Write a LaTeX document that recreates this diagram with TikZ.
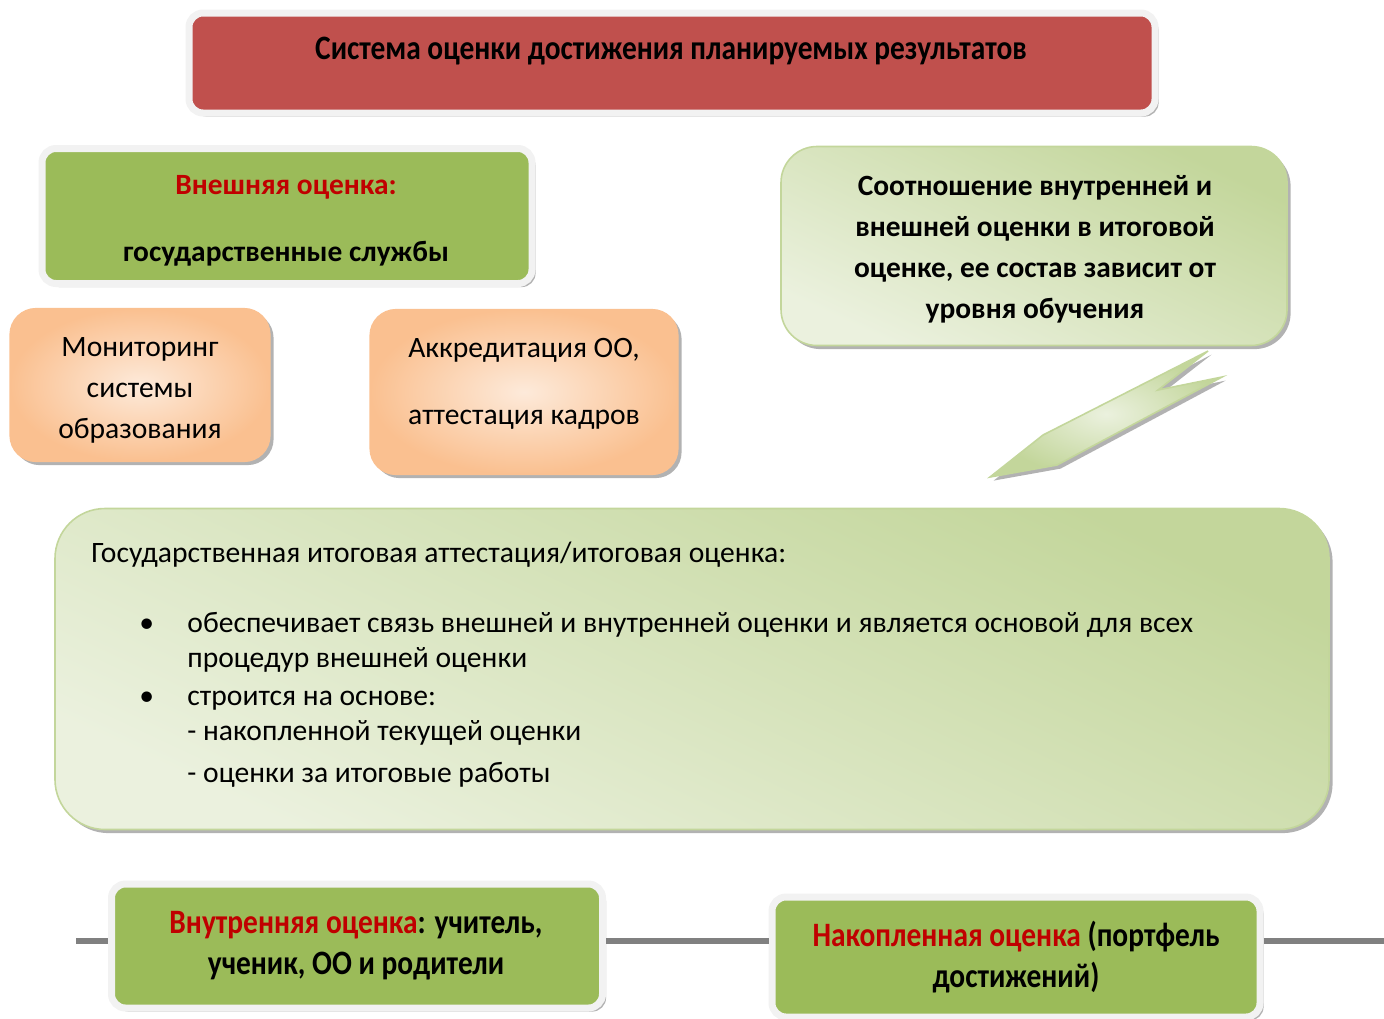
\documentclass[tikz,border=0pt]{standalone}
\usepackage{fontspec}
\setmainfont{Carlito}
\newfontfamily\narrowfont[FakeStretch=0.86]{Carlito}
\usetikzlibrary{shadows}

\definecolor{titlered}{HTML}{C0504D}
\definecolor{leafgreen}{HTML}{9BBB59}
\definecolor{wordred}{HTML}{C00000}
\definecolor{peachedge}{HTML}{FAC090}
\definecolor{peachmid}{HTML}{FDEADA}
\definecolor{sagedark}{HTML}{C3D69B}
\definecolor{sagelight}{HTML}{EBF1DE}
\definecolor{framegray}{HTML}{F2F2F2}

\tikzset{
  boxshadow/.style={drop shadow={shadow xshift=1.8pt,shadow yshift=-1.8pt,fill=black!55,opacity=.55}},
  framedbox/.style={boxshadow,draw=framegray,line width=3.5pt,rounded corners=7pt,inner sep=0pt},
  peachbox/.style={boxshadow,draw=peachedge,line width=.6pt,rounded corners=13pt,inner sep=0pt,
    inner color=peachmid,outer color=peachedge},
  sagebox/.style={boxshadow,draw=sagedark,line width=.8pt,inner sep=0pt,
    top color=sagedark,bottom color=sagelight,shading angle=-25},
  plaintext/.style={font=\fontsize{14.8}{20.5}\selectfont,align=center},
  boldtext/.style={font=\fontsize{14.7}{20.5}\selectfont\bfseries,align=center},
  narrowbold/.style={font=\narrowfont\fontsize{17.1}{20.5}\selectfont\bfseries,align=center},
  listline/.style={font=\fontsize{14.8}{17}\selectfont,anchor=west,text height=1.5ex,text depth=.25ex,inner sep=0pt},
  greyline/.style={black!50,line width=3pt},
}

\begin{document}
\begin{tikzpicture}[x=0.5pt,y=-0.5pt]
\useasboundingbox (0,0) rectangle (1384,1018);

% top title
\node[framedbox,fill=titlered,minimum width=483pt,minimum height=50pt] (title) at (672,63) {};
\node[narrowbold] (titletext) at (671,51)
  {Система оценки достижения планируемых результатов};

% external evaluation
\node[framedbox,fill=leafgreen,minimum width=245pt,minimum height=67.5pt] (outer) at (287,216) {};
\node[boldtext] (outertext) at (286,221)
  {\textcolor{wordred}{Внешняя оценка:}\\[13pt]государственные службы};
\node[peachbox,minimum width=130pt,minimum height=76.5pt] (monitor) at (140,385) {};
\node[plaintext] (monitortext) at (140,390) {Мониторинг\\системы\\образования};
\node[peachbox,minimum width=154pt,minimum height=82.5pt] (accred) at (524,392) {};
\node[plaintext] (accredtext) at (524,384) {Аккредитация ОО,\\[13pt]аттестация кадров};

% ratio box and its callout
\node[sagebox,rounded corners=18pt,minimum width=253pt,minimum height=99.5pt] (ratio) at (1034,246) {};
\node[boldtext] (ratiotext) at (1035,249)
  {Соотношение внутренней и\\внешней оценки в итоговой\\оценке, ее состав зависит от\\уровня обучения};
\draw[boxshadow,draw=sagedark,line width=.8pt,inner color=sagelight,outer color=sagedark]
  (990,477) -- (1043,435) -- (1208,351) -- (1158,390) -- (1222,377) -- (1057,465) -- cycle;

% final attestation
\node[sagebox,rounded corners=25pt,minimum width=637pt,minimum height=160.5pt] (final) at (692,669) {};
\node[listline] (finalhead) at (91,557) {Государственная итоговая аттестация/итоговая оценка:};
\foreach \y/\name/\txt in {627/lineA/обеспечивает связь внешней и внутренней оценки и является основой для всех,
    662/lineB/процедур внешней оценки, 700/lineC/строится на основе:,
    735/lineD/- накопленной текущей оценки, 777/lineE/- оценки за итоговые работы}
  \node[listline] (\name) at (187,\y) {\txt};
\foreach \y/\name in {627/dotA,700/dotC}
  \node[listline] (\name) at (139,\y) {•};

% internal and accumulated evaluation on the line
\coordinate (linestart) at (76,941);
\coordinate (lineend) at (1384,941);
\node[framedbox,fill=leafgreen,minimum width=245.5pt,minimum height=62pt] (inner) at (357,946) {};
\node[framedbox,fill=leafgreen,minimum width=244pt,minimum height=60pt] (portfolio) at (1016,957) {};
\draw[greyline] (linestart) -- (linestart -| inner.west);
\draw[greyline] (linestart -| inner.east) -- (linestart -| portfolio.west);
\draw[greyline] (linestart -| portfolio.east) -- (lineend);
\node[narrowbold] (innertext) at (356,946)
  {\textcolor{wordred}{Внутренняя оценка}: учитель,\\ученик, ОО и родители};
\node[narrowbold] (portfoliotext) at (1016,957)
  {\textcolor{wordred}{Накопленная оценка} (портфель\\достижений)};
\end{tikzpicture}
\end{document}
